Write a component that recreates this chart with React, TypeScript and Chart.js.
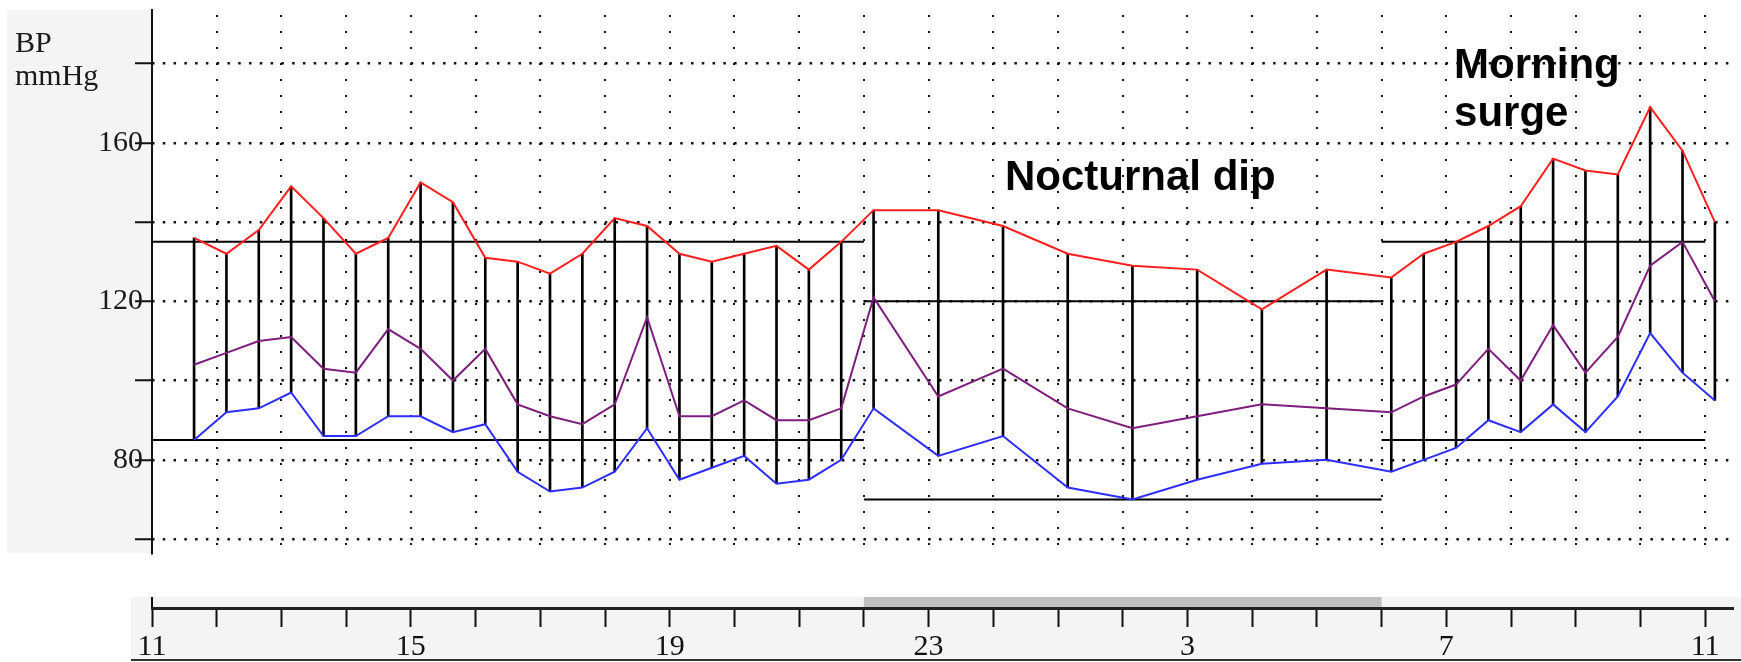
import React, { useEffect, useRef } from 'react';
import { Chart, registerables } from 'chart.js';

Chart.register(...registerables);

// Measurement times, in hours after 11:00
const hoursSinceStart = [
  0.65, 1.15, 1.65, 2.15, 2.65, 3.15, 3.65, 4.15, 4.65, 5.15, 5.65, 6.15, 6.65, 7.15, 7.65, 8.15,
  8.65, 9.15, 9.65, 10.15, 10.65, 11.15, 12.15, 13.15, 14.15, 15.15, 16.15, 17.15, 18.15, 19.15,
  19.65, 20.15, 20.65, 21.15, 21.65, 22.15, 22.65, 23.15, 23.65, 24.15,
];
const systolic = [
  136, 132, 138, 149, 141, 132, 136, 150, 145, 131, 130, 127, 132, 141, 139, 132, 130, 132, 134, 128,
  135, 143, 143, 139, 132, 129, 128, 118, 128, 126, 132, 135, 139, 144, 156, 153, 152, 169, 158, 140,
];
const meanPressure = [
  104, 107, 110, 111, 103, 102, 113, 108, 100, 108, 94, 91, 89, 94, 116, 91, 91, 95, 90, 90,
  93, 121, 96, 103, 93, 88, 91, 94, 93, 92, 96, 99, 108, 100, 114, 102, 111, 129, 135, 120,
];
const diastolic = [
  85, 92, 93, 97, 86, 86, 91, 91, 87, 89, 77, 72, 73, 77, 88, 75, 78, 81, 74, 75,
  80, 93, 81, 86, 73, 70, 75, 79, 80, 77, 80, 83, 90, 87, 94, 87, 96, 112, 102, 95,
];

// Threshold segments (day / night / morning)
const limitStart = [0, 11, 19];
const limitEnd = [11, 19, 24];
const upperLimit = [135, 120, 135];
const lowerLimit = [85, 70, 85];

// Axis texts
const hourTickLabels = ['11', '15', '19', '23', '3', '7', '11']; // every 4 hours
const labelledPressures = [80, 120, 160];
const nightBand = [11, 19];
const yTitle = ['BP', 'mmHg'];

// Annotation texts, anchored in data units (hour, mmHg)
const noteTexts = ['Nocturnal dip', 'Morning', 'surge'];
const noteHours = [13.18, 20.12, 20.12];
const noteValues = [148.2, 176.3, 164.3];

const X_MAX = 24.43;
const Y_MIN = 56.5;
const Y_MAX = 193.5;

const decorPlugin = {
  id: 'decor',
  beforeDraw(chart: any) {
    const { ctx, chartArea } = chart;
    const xs = chart.scales.x;
    const xb = chart.scales.xb;
    ctx.save();
    // left grey panel
    ctx.fillStyle = '#f4f4f4';
    ctx.fillRect(7, chartArea.top, chartArea.left - 7, chartArea.bottom - chartArea.top);
    // bottom time-axis panel
    const panelTop = xb.top - 11;
    ctx.fillRect(chartArea.left - 21, panelTop, chart.width - (chartArea.left - 21), chart.height - 2 - panelTop);
    ctx.fillStyle = '#333';
    ctx.fillRect(chartArea.left - 21, chart.height - 3, chart.width - (chartArea.left - 21), 2);
    // night band
    ctx.fillStyle = '#c0c0c0';
    const n0 = xs.getPixelForValue(nightBand[0]);
    const n1 = xs.getPixelForValue(nightBand[1]);
    ctx.fillRect(n0, panelTop, n1 - n0, xb.top - panelTop);
    // first tick extends above the axis line
    ctx.fillStyle = '#111';
    ctx.fillRect(xs.getPixelForValue(0) - 1, panelTop, 2, 12);
    ctx.restore();
  },
  afterDraw(chart: any) {
    const { ctx } = chart;
    const xs = chart.scales.x;
    const ys = chart.scales.y;
    ctx.save();
    ctx.fillStyle = '#1a1a1a';
    ctx.font = "30px 'Liberation Serif', 'Times New Roman', serif";
    ctx.textBaseline = 'alphabetic';
    ctx.textAlign = 'left';
    ctx.fillText(yTitle[0], 15, 52);
    ctx.fillText(yTitle[1], 15, 85);
    ctx.fillStyle = '#000';
    ctx.font = "bold 42px 'Liberation Sans', Arial, sans-serif";
    noteTexts.forEach((t, i) => {
      ctx.fillText(t, xs.getPixelForValue(noteHours[i]), ys.getPixelForValue(noteValues[i]));
    });
    ctx.restore();
  },
};

export default function App() {
  const ref = useRef<HTMLCanvasElement>(null);

  useEffect(() => {
    const canvas = ref.current;
    if (!canvas) return;

    const pts = (vals: number[]) => hoursSinceStart.map((h, i) => ({ x: h, y: vals[i] }));

    const limitSets: any[] = [];
    limitStart.forEach((s, i) => {
      [upperLimit[i], lowerLimit[i]].forEach((v) => {
        limitSets.push({
          type: 'line',
          data: [{ x: s, y: v }, { x: limitEnd[i], y: v }],
          borderColor: '#000',
          borderWidth: 2,
          pointRadius: 0,
          order: 3,
        });
      });
    });

    const chart = new Chart(canvas, {
      type: 'line',
      data: {
        datasets: [
          {
            type: 'line',
            label: 'Systolic',
            data: pts(systolic),
            borderColor: 'rgb(255,30,30)',
            borderWidth: 2,
            pointRadius: 0,
            tension: 0,
            order: 0,
          },
          {
            type: 'line',
            label: 'Mean',
            data: pts(meanPressure),
            borderColor: 'rgb(125,30,125)',
            borderWidth: 2,
            pointRadius: 0,
            tension: 0,
            order: 0,
          },
          {
            type: 'line',
            label: 'Diastolic',
            data: pts(diastolic),
            borderColor: 'rgb(45,45,255)',
            borderWidth: 2,
            pointRadius: 0,
            tension: 0,
            order: 0,
          },
          {
            type: 'bar',
            label: 'Range',
            data: hoursSinceStart.map((h, i) => ({ x: h, y: [diastolic[i], systolic[i]] })),
            backgroundColor: '#000',
            borderWidth: 0,
            barThickness: 2,
            order: 2,
          } as any,
          ...limitSets,
        ],
      },
      options: {
        animation: false,
        responsive: false,
        events: [],
        layout: { padding: { left: 7, top: 5, right: 8, bottom: 2 } },
        plugins: { legend: { display: false }, tooltip: { enabled: false }, title: { display: false } },
        scales: {
          x: {
            type: 'linear',
            position: 'bottom',
            weight: 0,
            offset: false,
            min: 0,
            max: X_MAX,
            ticks: { display: false, stepSize: 1, autoSkip: false, includeBounds: false },
            grid: { offset: false, color: '#111', lineWidth: 2, drawTicks: false, drawOnChartArea: true },
            border: { display: false, dash: [2, 14], dashOffset: 11 },
            afterFit: (s: any) => {
              s.height = 55;
            },
          },
          xb: {
            type: 'linear',
            position: 'bottom',
            weight: 1,
            offset: false,
            min: 0,
            max: X_MAX,
            ticks: {
              stepSize: 1,
              autoSkip: false,
              includeBounds: false,
              maxRotation: 0,
              padding: 2,
              color: '#111',
              font: { family: "'Liberation Serif', 'Times New Roman', serif", size: 30 },
              callback: (v: any) => (v % 4 === 0 ? hourTickLabels[v / 4] : ''),
            },
            grid: { offset: false, drawOnChartArea: false, drawTicks: true, tickLength: 19, tickColor: '#111', tickWidth: 2 },
            border: { display: true, color: '#222', width: 3 },
            afterFit: (s: any) => {
              s.height = 52;
            },
          },
          y: {
            type: 'linear',
            position: 'left',
            min: Y_MIN,
            max: Y_MAX,
            ticks: {
              stepSize: 20,
              includeBounds: false,
              padding: -8,
              color: '#1a1a1a',
              font: { family: "'Liberation Serif', 'Times New Roman', serif", size: 30 },
              callback: (v: any) => (labelledPressures.includes(v) ? String(v) : ''),
            },
            grid: { color: '#111', lineWidth: 2.5, tickLength: 17, tickColor: '#111', tickWidth: 2, tickBorderDash: [] },
            border: { display: true, color: '#111', width: 2, dash: [2.5, 8.28], dashOffset: 1 },
            afterFit: (s: any) => {
              s.width = 145;
            },
          },
        },
      } as any,
      plugins: [decorPlugin],
    });

    return () => chart.destroy();
  }, []);

  return (
    <div style={{ position: 'absolute', left: 0, top: 0, width: 1741, height: 662, background: '#fff' }}>
      <canvas ref={ref} width={1741} height={662} style={{ display: 'block' }} />
    </div>
  );
}
